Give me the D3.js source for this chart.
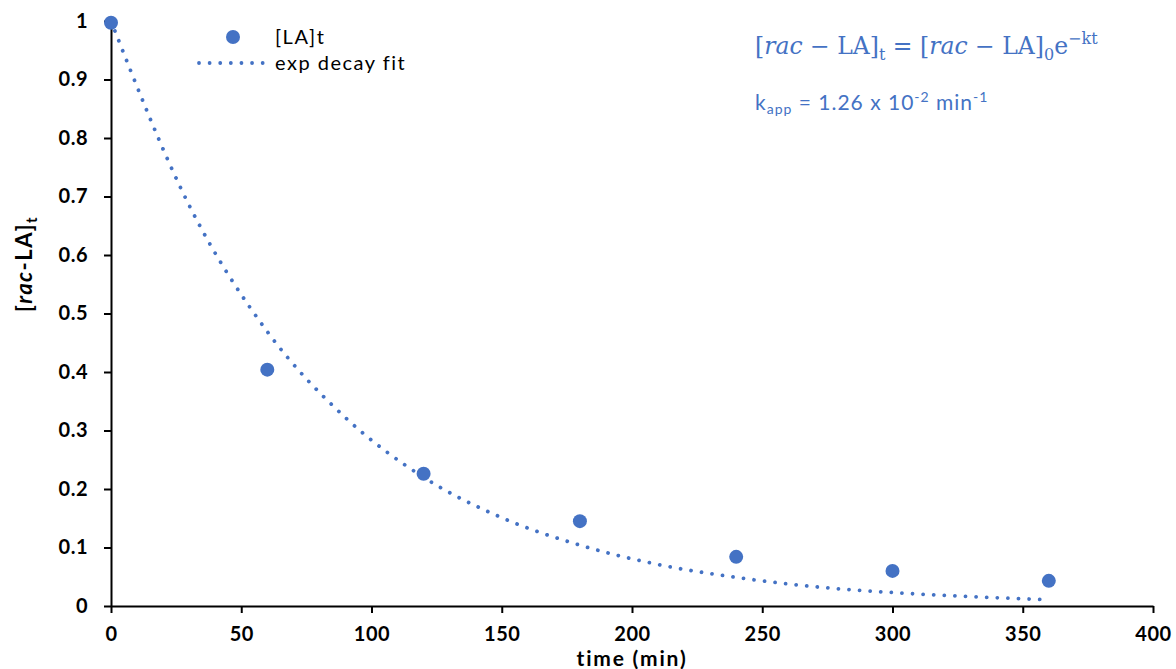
<!DOCTYPE html>
<html><head><meta charset="utf-8">
<script src="https://cdn.jsdelivr.net/npm/d3@7"></script>
<style>body{margin:0;background:#fff}svg{display:block}</style>
</head><body>
<svg id="c" width="1176" height="669"></svg>
<script>
const times = [0, 60, 120, 180, 240, 300, 360];
const laValues = [0.997, 0.404, 0.226, 0.145, 0.084, 0.060, 0.043];
const fitTimes = [0, 30, 60, 90, 120, 150, 180, 210, 240, 270, 300, 330, 358];
const fitValues = [1.0, 0.685, 0.469, 0.322, 0.220, 0.151, 0.104, 0.071, 0.049, 0.033, 0.023, 0.016, 0.011];
const xTicks = [0, 50, 100, 150, 200, 250, 300, 350, 400];
const yTicks = [0, 0.1, 0.2, 0.3, 0.4, 0.5, 0.6, 0.7, 0.8, 0.9, 1];
const blue = "#4472C4";
const svg = d3.select("#c");
const x = d3.scaleLinear().domain([0, 400]).range([111, 1153]);
const y = d3.scaleLinear().domain([0, 1]).range([606, 21]);
const font = "Lato, 'Open Sans', sans-serif";

// axes
const xa = svg.append("g").attr("transform", "translate(0,606)")
  .call(d3.axisBottom(x).tickValues(xTicks).tickSize(7).tickSizeOuter(0).tickPadding(14).tickFormat(d3.format("d")));
const ya = svg.append("g").attr("transform", "translate(111,0)")
  .call(d3.axisLeft(y).tickValues(yTicks).tickSize(7).tickSizeOuter(0).tickPadding(16).tickFormat(d => d === 0 ? "0" : d === 1 ? "1" : d3.format(".1f")(d)));
[xa, ya].forEach(a => {
  a.select(".domain").attr("stroke", "#000").attr("stroke-width", 2);
  a.selectAll(".tick line").attr("stroke", "#000").attr("stroke-width", 2);
  a.selectAll(".tick text").attr("font-family", font).attr("font-weight", "bold").attr("font-size", 20)
    .attr("letter-spacing", 0.5).attr("fill", "#000");
});

// fit line
const line = d3.line().x((d, i) => x(fitTimes[i])).y(d => y(d)).curve(d3.curveMonotoneX);
svg.append("path").attr("d", line(fitValues)).attr("fill", "none").attr("stroke", blue)
  .attr("stroke-width", 3.8).attr("stroke-linecap", "round").attr("stroke-dasharray", "0.01,10.6");

// points
svg.append("g").selectAll("circle").data(laValues).join("circle")
  .attr("cx", (d, i) => x(times[i])).attr("cy", d => y(d)).attr("r", 7).attr("fill", blue);

// axis titles
svg.append("text").attr("x", 632).attr("y", 666).attr("text-anchor", "middle")
  .attr("font-family", font).attr("font-weight", "bold").attr("font-size", 21).attr("letter-spacing", 1.8).text("time (min)");
const yt = svg.append("text").attr("transform", "translate(32,264) rotate(-90)").attr("text-anchor", "middle")
  .attr("font-family", font).attr("font-weight", "bold").attr("font-size", 22).attr("letter-spacing", 1.5);
yt.append("tspan").text("[");
yt.append("tspan").attr("font-style", "italic").text("rac");
yt.append("tspan").text("-LA]");
yt.append("tspan").attr("font-size", 15).attr("dy", 5).text("t");

// legend
svg.append("circle").attr("cx", 233).attr("cy", 37).attr("r", 7).attr("fill", blue);
svg.append("text").attr("x", 275).attr("y", 44).attr("font-family", font).attr("font-size", 20).attr("letter-spacing", 1.5).text("[LA]t");
svg.append("line").attr("x1", 199).attr("x2", 266).attr("y1", 63).attr("y2", 63).attr("stroke", blue)
  .attr("stroke-width", 3.8).attr("stroke-linecap", "round").attr("stroke-dasharray", "0.01,10.6");
svg.append("text").attr("x", 275).attr("y", 70).attr("font-family", font).attr("font-size", 20).attr("letter-spacing", 1.5).text("exp decay fit");

// equation
const serif = "'DejaVu Serif', 'Liberation Serif', serif";
const eq = svg.append("text").attr("x", 755).attr("y", 54).attr("font-family", serif).attr("font-size", 23.5).attr("fill", blue);
eq.append("tspan").text("[");
eq.append("tspan").attr("font-style", "italic").text("rac");
eq.append("tspan").text(" − LA]");
eq.append("tspan").attr("font-size", 16).attr("dy", 6).text("t");
eq.append("tspan").attr("dy", -6).text(" = [");
eq.append("tspan").attr("font-style", "italic").text("rac");
eq.append("tspan").text(" − LA]");
eq.append("tspan").attr("font-size", 16).attr("dy", 6).text("0");
eq.append("tspan").attr("dy", -6).text("e");
eq.append("tspan").attr("font-size", 16).attr("dy", -10).text("−kt");

const k = svg.append("text").attr("x", 755).attr("y", 110).attr("font-family", font).attr("font-size", 21).attr("letter-spacing", 1).attr("fill", blue);
k.append("tspan").text("k");
k.append("tspan").attr("font-size", 14).attr("dy", 4).text("app");
k.append("tspan").attr("dy", -4).text(" = 1.26 x 10");
k.append("tspan").attr("font-size", 14).attr("dy", -8).text("-2");
k.append("tspan").attr("dy", 8).text(" min");
k.append("tspan").attr("font-size", 14).attr("dy", -8).text("-1");
</script>
</body></html>
